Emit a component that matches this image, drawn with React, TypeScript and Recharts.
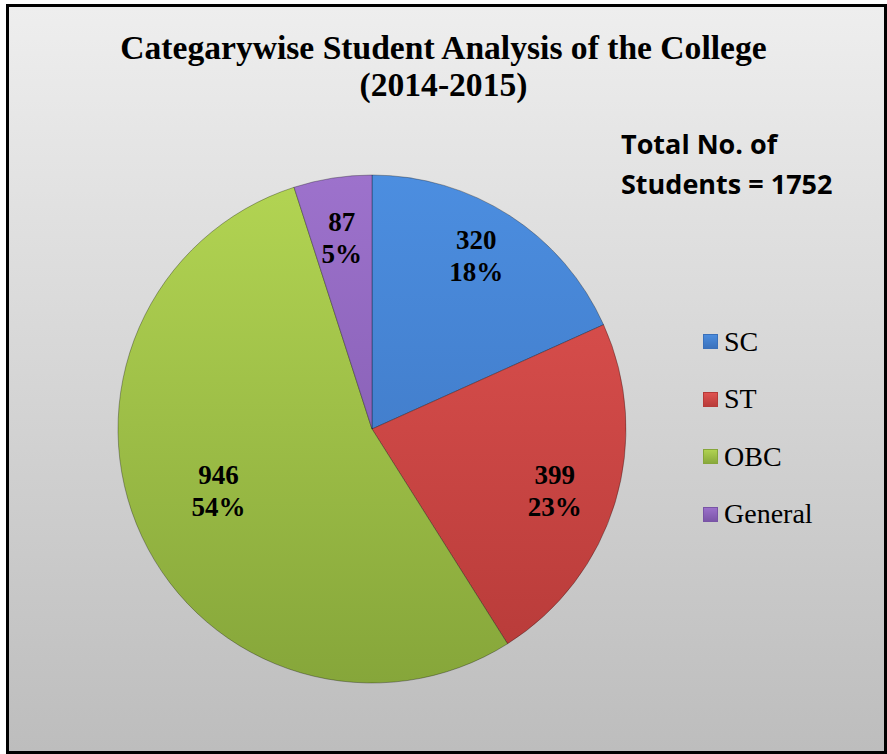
import React from "react";
import { PieChart, Pie, Cell, Legend } from "recharts";

const categories = ["SC", "ST", "OBC", "General"];
const students = [320, 399, 946, 87];
const total = 1752;

const TOP_COLORS = ["#4c8ee0", "#e25452", "#b3d553", "#9d72cc"];
const BOTTOM_COLORS = ["#3a70ba", "#b63a38", "#86a63a", "#7954a6"];
// label placement per slice (Excel "best fit"): radius factor + nudge in px
const LABEL_R = [0.8, 0.76, 0.65, 0.765];
const LABEL_NUDGE = [[-6, -3], [-2, 5], [-4, -9], [0, 0]];

const data = categories.map((name, i) => ({ name, value: students[i] }));

const RAD = Math.PI / 180;

const renderLabel = (props: any) => {
  const { cx, cy, midAngle, outerRadius, value, percent, index } = props;
  const r = outerRadius * LABEL_R[index];
  const x = cx + r * Math.cos(-midAngle * RAD) + LABEL_NUDGE[index][0];
  const y = cy + r * Math.sin(-midAngle * RAD) + LABEL_NUDGE[index][1];
  return (
    <text
      x={x}
      y={y}
      textAnchor="middle"
      fill="#000"
      fontFamily="'Liberation Serif', 'Times New Roman', serif"
      fontWeight="bold"
      fontSize={27}
    >
      <tspan x={x} dy={-6}>{value}</tspan>
      <tspan x={x} dy={32}>{`${Math.round(percent * 100)}%`}</tspan>
    </text>
  );
};

const LegendContent = () => (
  <div style={{ fontFamily: "'Liberation Serif', 'Times New Roman', serif", fontSize: 28, color: "#000" }}>
    {categories.map((c, i) => (
      <div key={c} style={{ display: "flex", alignItems: "center", height: 57.5, lineHeight: "57.5px" }}>
        <span
          style={{
            display: "inline-block",
            width: 15,
            height: 15,
            marginRight: 6,
            background: `linear-gradient(${TOP_COLORS[i]}, ${BOTTOM_COLORS[i]})`,
            boxShadow: `inset 0 0 0 1px ${BOTTOM_COLORS[i]}`,
          }}
        />
        <span>{c}</span>
      </div>
    ))}
  </div>
);

export default function App() {
  return (
    <div style={{ position: "relative", width: 887, height: 754 }}>
      <style>{"body{margin:0}"}</style>
      <div
        style={{
          position: "absolute",
          left: 6,
          top: 4,
          width: 881,
          height: 750,
          boxSizing: "border-box",
          border: "3px solid #000",
          background: "linear-gradient(#eeeeee, #bdbdbd)",
        }}
      />
      <div
        style={{
          position: "absolute",
          left: 3,
          top: 29,
          width: 881,
          textAlign: "center",
          fontFamily: "'Liberation Serif', 'Times New Roman', serif",
          fontWeight: "bold",
          fontSize: 33.6,
          lineHeight: "37px",
        }}
      >
        Categarywise Student Analysis of the College
        <br />
        (2014-2015)
      </div>
      <div
        style={{
          position: "absolute",
          left: 621,
          top: 123.5,
          fontFamily: "'Open Sans', sans-serif",
          fontWeight: "bold",
          fontSize: 27,
          lineHeight: "40px",
          whiteSpace: "nowrap",
        }}
      >
        Total No. of
        <br />
        Students = {total}
      </div>
      <div style={{ position: "absolute", left: 0, top: 0 }}>
        <PieChart width={887} height={754} margin={{ top: 0, right: 0, bottom: 0, left: 0 }}>
          <defs>
            {categories.map((c, i) => (
              <linearGradient key={c} id={`grad-${i}`} gradientUnits="userSpaceOnUse" x1="0" y1="175" x2="0" y2="683">
                <stop offset="0%" stopColor={TOP_COLORS[i]} />
                <stop offset="100%" stopColor={BOTTOM_COLORS[i]} />
              </linearGradient>
            ))}
          </defs>
          <Pie
            data={data}
            dataKey="value"
            nameKey="name"
            cx={372}
            cy={429}
            outerRadius={254}
            startAngle={90}
            endAngle={-270}
            stroke="rgba(0,0,0,0.3)"
            strokeWidth={1}
            label={renderLabel}
            labelLine={false}
            isAnimationActive={false}
          >
            {data.map((entry, idx) => (
              <Cell key={`cell-${idx}`} fill={`url(#grad-${idx})`} />
            ))}
          </Pie>
          <Legend
            content={<LegendContent />}
            wrapperStyle={{ position: "absolute", left: 703, top: 312.8, width: 150 }}
          />
        </PieChart>
      </div>
    </div>
  );
}
